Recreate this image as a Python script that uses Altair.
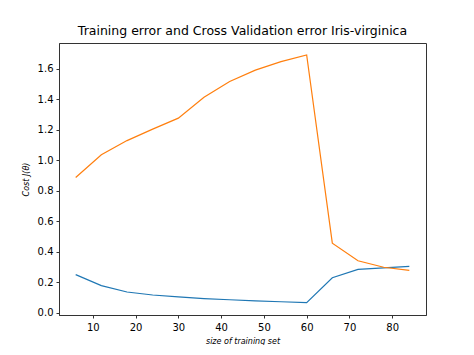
import altair as alt
import pandas as pd

sizes = [6, 12, 18, 24, 30, 36, 42, 48, 54, 60, 66, 72, 78, 84]
train_error = [0.249, 0.177, 0.135, 0.115, 0.103, 0.092, 0.084, 0.077, 0.071, 0.065, 0.228, 0.283, 0.293, 0.303]
cv_error = [0.886, 1.035, 1.128, 1.203, 1.275, 1.412, 1.515, 1.590, 1.646, 1.690, 0.455, 0.340, 0.297, 0.277]
series_names = ["Training error", "Cross Validation error"]
x_ticks = [10, 20, 30, 40, 50, 60, 70, 80]
y_ticks = [0.0, 0.2, 0.4, 0.6, 0.8, 1.0, 1.2, 1.4, 1.6]

rows = []
for s, t, c in zip(sizes, train_error, cv_error):
    rows.append({"size": s, "cost": t, "series": series_names[0]})
    rows.append({"size": s, "cost": c, "series": series_names[1]})
df = pd.DataFrame(rows)

font = "DejaVu Sans"

chart = alt.Chart(df).mark_line(strokeWidth=1.2).encode(
    x=alt.X("size:Q",
            scale=alt.Scale(domain=[2.1, 87.9], nice=False, zero=False),
            axis=alt.Axis(values=x_ticks, title="size of training set", grid=False,
                          format="d", titleFontStyle="italic", titleFontWeight="normal",
                          titleFontSize=8, titleFont=font, titlePadding=5, labelPadding=4)),
    y=alt.Y("cost:Q",
            scale=alt.Scale(domain=[-0.016, 1.768], nice=False, zero=False),
            axis=alt.Axis(values=y_ticks, title="Cost J(θ)", grid=False, format=".1f",
                          titleFontStyle="italic", titleFontWeight="normal",
                          titleFontSize=8, titleFont=font, titlePadding=7)),
    color=alt.Color("series:N",
                    scale=alt.Scale(domain=series_names, range=["#1f77b4", "#ff7f0e"]),
                    legend=None),
    order=alt.Order("size:Q"),
).properties(
    width=367,
    height=272,
    title=alt.TitleParams("Training error and Cross Validation error Iris-virginica",
                          font=font, fontSize=12.5, fontWeight="normal", color="black",
                          offset=6),
    autosize=alt.AutoSizeParams(type="none"),
    padding={"left": 51, "top": 35, "right": 40, "bottom": 30},
).configure_view(
    stroke="#333333", strokeWidth=1
).configure_axis(
    domainColor="#333333", tickColor="#333333", tickSize=3, labelFont=font,
    labelFontSize=10, labelColor="black", titleColor="black", labelPadding=3,
    domainWidth=1,
)

chart.save("out.html", embed_options={"renderer": "svg", "actions": False})
